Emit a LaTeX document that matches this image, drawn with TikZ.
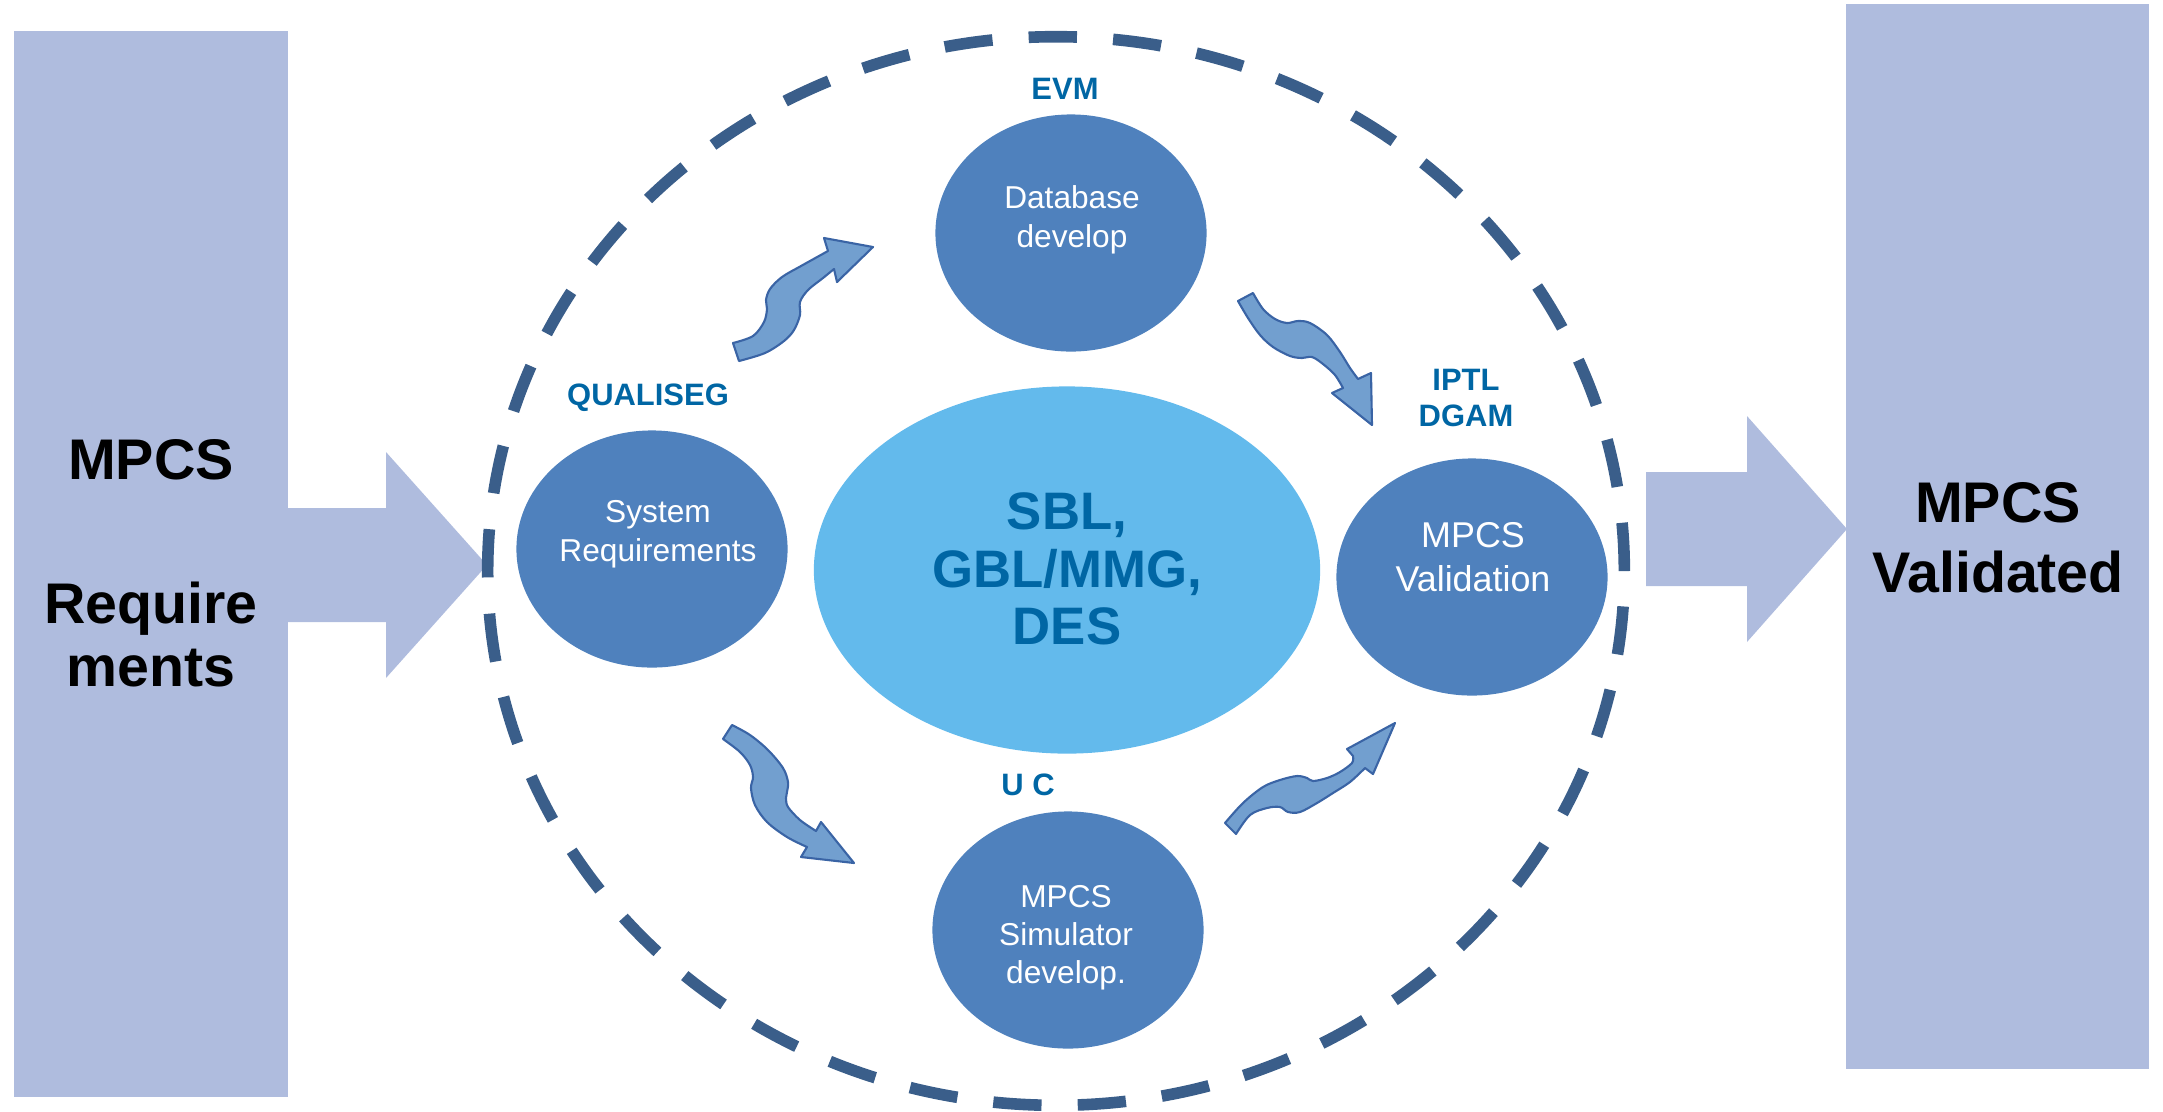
\documentclass[tikz,border=0pt]{standalone}
\usepackage{fontspec}
\setmainfont{Liberation Sans}
\usetikzlibrary{shapes.geometric}
\definecolor{boxc}{RGB}{175,188,222}
\definecolor{ringc}{RGB}{58,94,138}
\definecolor{procc}{RGB}{79,129,189}
\definecolor{corec}{RGB}{99,186,236}
\definecolor{labc}{RGB}{0,102,164}
\definecolor{wavefill}{RGB}{114,159,207}
\definecolor{waveline}{RGB}{58,100,165}
\tikzset{
  bigbox/.style={fill=boxc, draw=none},
  proc/.style={ellipse, fill=procc, draw=none, inner sep=0pt, minimum width=2.71cm, minimum height=2.37cm},
  coreell/.style={ellipse, fill=corec, draw=none, inner sep=0pt, minimum width=5.06cm, minimum height=3.67cm},
  dashring/.style={draw=ringc, line width=3.3pt, dash pattern=on 13.74pt off 10.30pt},
  wave/.style={fill=wavefill, draw=waveline, line width=0.6pt, line join=round},
  bigtxt/.style={inner sep=0pt, font=\fontsize{16.3pt}{19.9pt}\selectfont\bfseries, text=black, align=center},
  proctxt/.style={inner sep=0pt, text=white, align=center, anchor=north},
  labtxt/.style={inner sep=0pt, text=labc, font=\fontsize{8.8pt}{10.5pt}\selectfont\bfseries, align=center},
}
\begin{document}
\begin{tikzpicture}[x=0.01cm, y=-0.01cm]
\useasboundingbox (0,0) rectangle (2163,1111);
% side boxes
\fill[bigbox] (14,31) rectangle (288,1097);
\fill[bigbox] (1846,4) rectangle (2149,1069);
% big arrows
\fill[bigbox] (280,508) -- (386,508) -- (386,452) -- (487,565) -- (386,678) -- (386,622) -- (280,622) -- cycle;
\fill[bigbox] (1646,472) -- (1747,472) -- (1747,416) -- (1847,529) -- (1747,642) -- (1747,586) -- (1646,586) -- cycle;
% dashed ring
\draw[dashring] (1056,571) ellipse [x radius=5.68cm, y radius=5.34cm];
% process ellipses
\node[coreell] (core) at (1067,570) {};
\node[proc] (db) at (1071,233) {};
\node[proc] (sr) at (652,549) {};
\node[proc] (mv) at (1472,577) {};
\node[proc] (ms) at (1068,930) {};
% texts
\node[proctxt, font=\fontsize{9pt}{11.1pt}\selectfont] (dbt) at (1072,185) {Database\\develop};
\node[proctxt, font=\fontsize{9pt}{11.1pt}\selectfont] (srt) at (658,500) {System\\Requirements};
\node[proctxt, font=\fontsize{10.2pt}{12.5pt}\selectfont] (mvt) at (1473,522) {MPCS\\Validation};
\node[proctxt, font=\fontsize{9pt}{10.8pt}\selectfont] (mst) at (1066,885) {MPCS\\Simulator\\develop.};
\node[proctxt, text=labc, font=\fontsize{15pt}{16.4pt}\selectfont\bfseries] (coret) at (1067,492) {SBL,\\GBL/MMG,\\DES};
% labels
\node[labtxt, anchor=base] (evm) at (1065,99) {EVM};
\node[labtxt, anchor=base] (qual) at (648,405) {QUALISEG};
\node[labtxt, anchor=base] (uc) at (1028,795) {U C};
\node[labtxt, anchor=north] (iptl) at (1466,368) {IPTL\\DGAM};
% side texts
\node[bigtxt, anchor=base] (l1) at (151,479) {MPCS};
\node[bigtxt, anchor=base] (l2) at (151,623) {Require};
\node[bigtxt, anchor=base] (l3) at (151,686) {ments};
\node[bigtxt, anchor=north] (rt) at (1998,482) {MPCS\\Validated};
% curved arrows
\draw[wave] plot[smooth, tension=0.55] coordinates {(733,343) (753,336) (764,322) (767,309) (766,300) (770,289) (782,277) (801,266) (828,251)}
  -- (824,238) -- (873,247) -- (837,282) -- (834,269)
  -- plot[smooth, tension=0.55] coordinates {(834,269) (823,278) (808,290) (800,302) (800,315) (794,330) (784,341) (765,353) (739,361)} -- cycle;
\draw[wave] plot[smooth, tension=0.55] coordinates {(1253,293) (1263,309) (1275,319) (1287,323) (1298,321) (1310,323) (1327,335) (1340,352) (1350,368) (1358,379)}
  -- (1371,373) -- (1372,425) -- (1332,393) -- (1343,388)
  -- plot[smooth, tension=0.55] coordinates {(1343,388) (1335,375) (1323,364) (1312,357) (1302,358) (1290,356) (1273,347) (1260,335) (1248,318) (1238,301)} -- cycle;
\draw[wave] plot[smooth, tension=0.55] coordinates {(732,725) (750,735) (768,750) (783,768) (788,782) (787,792) (786,798) (788,807) (800,820) (816,831)}
  -- (821,822) -- (854,863) -- (801,857) -- (807,847)
  -- plot[smooth, tension=0.55] coordinates {(807,847) (787,837) (767,822) (755,805) (751,788) (753,777) (750,765) (740,752) (723,739)} -- cycle;
\draw[wave] plot[smooth, tension=0.55] coordinates {(1225,823) (1243,803) (1263,787) (1280,780) (1297,776) (1307,778) (1313,781) (1327,778) (1340,772) (1352,763) (1353,756)}
  -- (1347,749) -- (1395,723) -- (1373,774) -- (1365,768)
  -- plot[smooth, tension=0.55] coordinates {(1365,768) (1350,782) (1333,793) (1317,803) (1300,812) (1288,812) (1280,807) (1267,808) (1250,815) (1236,834)} -- cycle;
\end{tikzpicture}
\end{document}
